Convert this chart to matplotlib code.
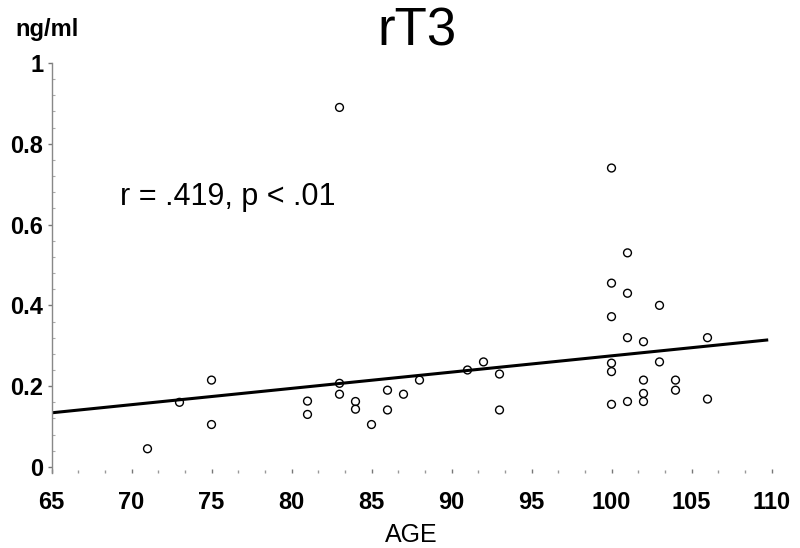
import numpy as np
import matplotlib.pyplot as plt
from matplotlib.ticker import MultipleLocator, FixedLocator

plt.rcParams['font.family'] = ['Liberation Sans', 'DejaVu Sans']

# age of each subject and serum rT3 (ng/ml)
age = [71, 73, 75, 75, 81, 81, 83, 83, 83, 84, 84, 85, 86, 86, 87, 88,
       91, 92, 93, 93,
       100, 100, 100, 100, 100, 100, 101, 101, 101, 101,
       102, 102, 102, 102, 103, 103, 104, 104, 106, 106]
rt3 = [0.045, 0.16, 0.215, 0.105, 0.163, 0.13, 0.89, 0.207, 0.18, 0.162,
       0.143, 0.105, 0.19, 0.141, 0.18, 0.215, 0.24, 0.26, 0.23, 0.141,
       0.74, 0.455, 0.372, 0.257, 0.236, 0.155, 0.53, 0.43, 0.32, 0.162,
       0.31, 0.215, 0.182, 0.162, 0.40, 0.26, 0.215, 0.19, 0.32, 0.168]

# regression line: value at age 65 and slope per year
fit_at_65 = 0.134
fit_slope = 0.00403
fit_range = [65, 109.7]

xticks = [65, 70, 75, 80, 85, 90, 95, 100, 105, 110]
yticks = [0, 0.2, 0.4, 0.6, 0.8, 1]
ytick_labels = ['0', '0.2', '0.4', '0.6', '0.8', '1']

fig = plt.figure(figsize=(8, 5.48), dpi=100)
ax = fig.add_axes([51.5 / 800, 75 / 548, 720 / 800, 410 / 548])

ax.scatter(age, rt3, s=32, facecolors='none', edgecolors='black',
           linewidths=1.0, zorder=3)

fx = np.array(fit_range)
ax.plot(fx, fit_at_65 + fit_slope * (fx - 65), color='black', lw=2.2, zorder=2)

ax.set_xlim(65, 110)
ax.set_ylim(-0.015, 1.0)

for s in ['top', 'right', 'bottom']:
    ax.spines[s].set_visible(False)
ax.spines['left'].set_color('#888888')
ax.spines['left'].set_linewidth(1)

ax.xaxis.set_major_locator(FixedLocator(xticks))
ax.xaxis.set_minor_locator(MultipleLocator(5 / 3))
ax.set_xticklabels([str(t) for t in xticks])
ax.yaxis.set_major_locator(FixedLocator(yticks))
ax.yaxis.set_minor_locator(MultipleLocator(0.04))
ax.set_yticklabels(ytick_labels)

ax.tick_params(axis='x', which='major', length=3, width=1, color='#777777',
               direction='in', pad=13, labelsize=17)
ax.tick_params(axis='x', which='minor', length=2, width=1, color='#999999',
               direction='in')
ax.tick_params(axis='y', which='major', length=3, width=1, color='#777777',
               direction='out', pad=3, labelsize=17)
ax.tick_params(axis='y', which='minor', length=2, width=0.8, color='#aaaaaa',
               direction='in')
for lab in ax.get_xticklabels() + ax.get_yticklabels():
    lab.set_fontweight('bold')

ax.text(69.3, 0.668, 'r = .419, p < .01', fontsize=22, va='center', ha='left')

fig.text(417 / 800, 1 - 46 / 548, 'rT3', fontsize=38, ha='center', va='baseline')
fig.text(15 / 800, 1 - 36 / 548, 'ng/ml', fontsize=17, fontweight='bold',
         ha='left', va='baseline')
fig.text(411 / 800, 1 - 535 / 548, 'AGE', fontsize=18, ha='center', va='center')

fig.savefig('out.png', dpi=100)
